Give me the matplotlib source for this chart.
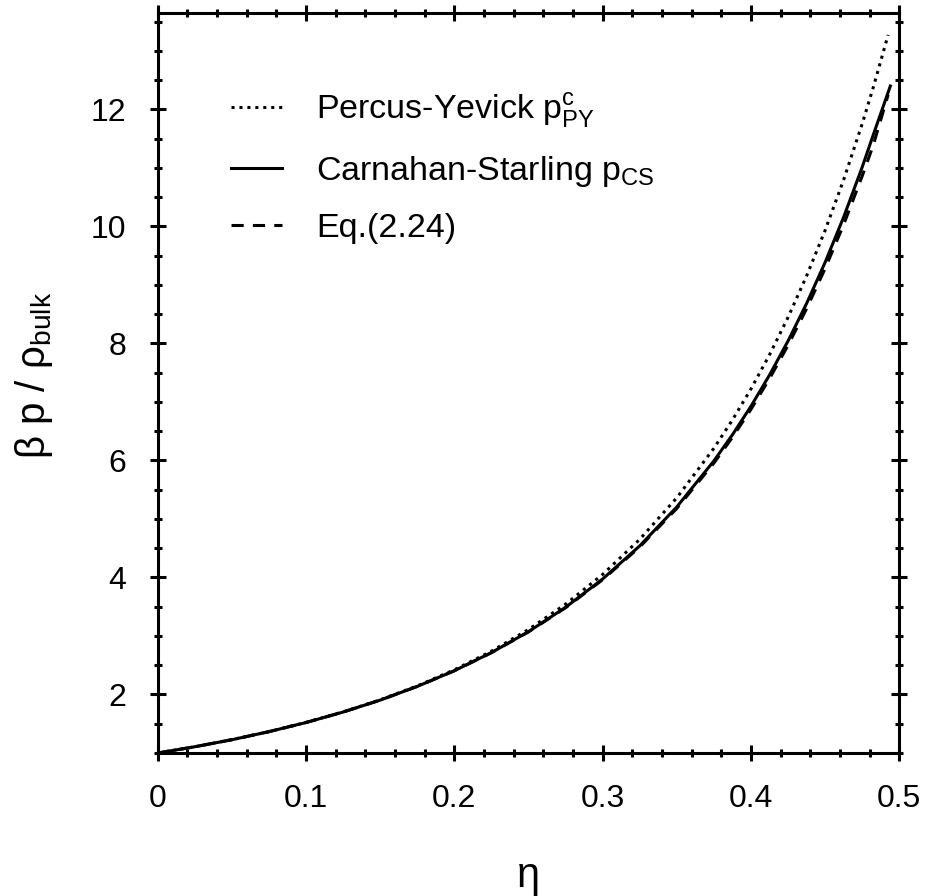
import matplotlib
matplotlib.use('Agg')
import matplotlib.pyplot as plt
from matplotlib.ticker import MultipleLocator

plt.rcParams['font.family'] = ['Liberation Sans', 'DejaVu Sans']
plt.rcParams['mathtext.fontset'] = 'custom'
plt.rcParams['mathtext.rm'] = 'Liberation Sans'
plt.rcParams['mathtext.it'] = 'Liberation Sans:italic'

# packing fraction and reduced pressure values
eta = [0.0, 0.025, 0.05, 0.075, 0.1, 0.125, 0.15, 0.175, 0.2, 0.225, 0.25,
       0.275, 0.3, 0.325, 0.35, 0.375, 0.3875, 0.4, 0.4125, 0.425, 0.4375,
       0.45, 0.4625, 0.475, 0.4825, 0.4925]
p_py = [1.0, 1.107, 1.228, 1.365, 1.523, 1.703, 1.909, 2.147, 2.422, 2.740, 3.111,
        3.544, 4.052, 4.652, 5.362, 6.208, 6.692, 7.222, 7.805, 8.446, 9.152,
        9.932, 10.796, 11.753, 12.377, 13.274]
p_cs = [1.0, 1.107, 1.227, 1.365, 1.521, 1.700, 1.904, 2.138, 2.406, 2.716, 3.074,
        3.490, 3.974, 4.540, 5.206, 5.992, 6.439, 6.926, 7.459, 8.042, 8.682,
        9.385, 10.158, 11.012, 11.566, 12.40]
p_eq = [1.0, 1.107, 1.227, 1.365, 1.521, 1.700, 1.904, 2.138, 2.405, 2.714, 3.070,
        3.483, 3.962, 4.522, 5.180, 5.955, 6.395, 6.874, 7.397, 7.968, 8.593,
        9.280, 10.030, 10.860, 11.390, 12.25]

fig = plt.figure(figsize=(9.28, 8.96), dpi=100)
ax = fig.add_axes([0.170, 0.1596, 0.799, 0.826])

ax.plot(eta, p_py, color='black', lw=2.2, linestyle=(0, (1, 1.6)),
        label=r'Percus-Yevick p$_{\mathrm{PY}}^{\mathrm{c}}$')
ax.plot(eta[:-1] + [0.494], p_cs, color='black', lw=2.2,
        label=r'Carnahan-Starling p$_{\mathrm{CS}}$')
ax.plot(eta, p_eq, color='black', lw=2.2, linestyle=(0, (4, 3)),
        label='Eq.(2.24)')

ax.set_xlim(0, 0.5)
ax.set_ylim(1, 13.65)
ax.xaxis.set_major_locator(MultipleLocator(0.1))
ax.xaxis.set_minor_locator(MultipleLocator(0.02))
ax.yaxis.set_major_locator(MultipleLocator(2))
ax.yaxis.set_minor_locator(MultipleLocator(0.5))
ax.set_xticks([0, 0.1, 0.2, 0.3, 0.4, 0.5])
ax.set_xticklabels(['0', '0.1', '0.2', '0.3', '0.4', '0.5'])
ax.set_yticks([2, 4, 6, 8, 10, 12])

for s in ax.spines.values():
    s.set_linewidth(2.2)
ax.tick_params(which='both', direction='inout', top=True, right=True,
               width=2.2, labelsize=23)
ax.tick_params(which='major', length=11, pad=17)
ax.tick_params(which='minor', length=6)

ax.set_xlabel('η', fontsize=30, labelpad=30)
ax.set_ylabel(r'β p / ρ$_{\mathrm{bulk}}$', fontsize=29)
ax.yaxis.set_label_coords(-0.138, 0.51)

leg = ax.legend(loc='upper left', bbox_to_anchor=(0.08, 0.913), frameon=False,
                fontsize=24.5, handlelength=1.5, handletextpad=1.0,
                labelspacing=0.7, borderaxespad=0)

fig.savefig('out.png', dpi=100)
